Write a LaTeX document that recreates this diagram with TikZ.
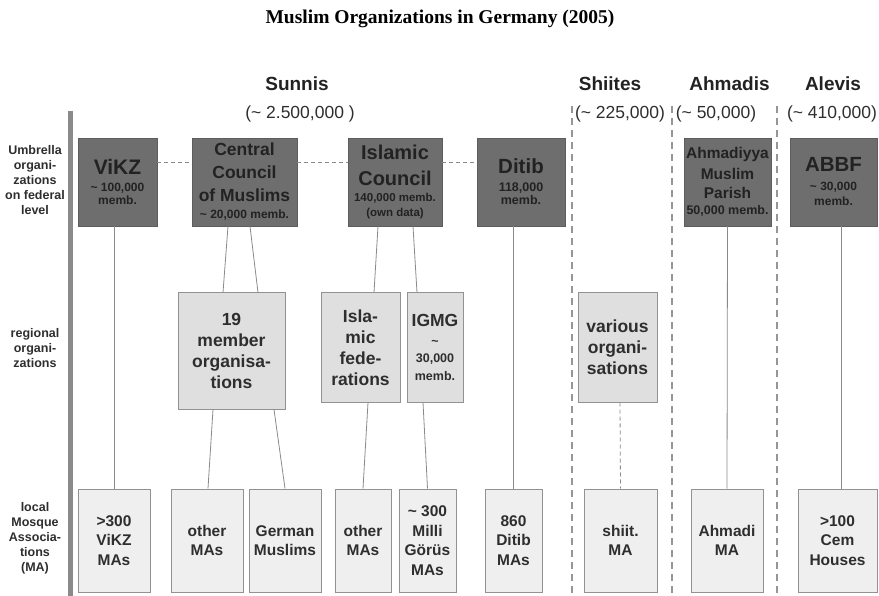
\documentclass[tikz,border=0pt]{standalone}
\usepackage{fontspec}
\setmainfont{Liberation Sans}
\newfontfamily\titlefont{Liberation Serif}
\definecolor{darkfill}{HTML}{6E6E6E}
\definecolor{darktext}{HTML}{222222}
\definecolor{midfill}{HTML}{DFDFDF}
\definecolor{lowfill}{HTML}{EFEFEF}
\definecolor{boxline}{HTML}{929292}
\definecolor{conn}{HTML}{8A8A8A}
\definecolor{labtext}{HTML}{2E2E2E}
\newcommand{\fs}[2]{\fontsize{#1}{#2}\selectfont}
\begin{document}
\begin{tikzpicture}[x=1pt,y=-1pt,
  darkbox/.style={fill=darkfill,draw=darkfill!85!black,line width=0.6pt,inner sep=0pt,
    minimum height=88pt,align=center,text=darktext,font=\bfseries\fs{12}{13}},
  midbox/.style={fill=midfill,draw=boxline,line width=1pt,inner sep=0pt,
    align=center,text=labtext,font=\bfseries\fs{17.5}{21}},
  lowbox/.style={fill=lowfill,draw=boxline,line width=1pt,inner sep=0pt,
    minimum height=103pt,align=center,text=labtext,font=\bfseries\fs{15.5}{19.5}},
  sidelab/.style={align=center,text=labtext,font=\bfseries\fs{12.5}{15}},
  head/.style={anchor=base,text=darktext,font=\bfseries\fs{19}{22}},
  cnt/.style={anchor=base,text=labtext,font=\fs{17.5}{20}},
  link/.style={draw=conn,line width=0.8pt},
  hdash/.style={draw=conn,line width=1pt,dash pattern=on 4pt off 3pt},
  sep/.style={draw=conn!90,line width=1.3pt,dash pattern=on 7pt off 5pt}]
\useasboundingbox (0,0) rectangle (879,596);

% title
\node[anchor=base,font=\titlefont\bfseries\fs{19.5}{22},text=black] (title) at (440,24) {Muslim Organizations in Germany (2005)};

% left bar
\coordinate (bart) at (70.5,111);
\coordinate (barb) at (70.5,596);
\draw[draw=conn,line width=4.5pt] (bart) -- (barb);

% separators
\coordinate (s1t) at (572,106); \coordinate (s1b) at (572,596);
\coordinate (s2t) at (672,106); \coordinate (s2b) at (672,596);
\coordinate (s3t) at (777,106); \coordinate (s3b) at (777,596);
\draw[sep] (s1t) -- (s1b);
\draw[sep] (s2t) -- (s2b);
\draw[sep] (s3t) -- (s3b);

% headers
\node[head] (hsun) at (297,91) {Sunnis};
\node[cnt]  (csun) at (300,119) {(\textasciitilde\ 2.500,000 )};
\node[head] (hshi) at (610,91) {Shiites};
\node[cnt]  (cshi) at (620,119) {(\textasciitilde\ 225,000)};
\node[head] (hahm) at (729.5,91) {Ahmadis};
\node[cnt]  (cahm) at (716,119) {(\textasciitilde\ 50,000)};
\node[head] (hale) at (833,91) {Alevis};
\node[cnt]  (cale) at (832,119) {(\textasciitilde\ 410,000)};

% side labels
\node[sidelab] (l1) at (35,180) {Umbrella\\organi-\\zations\\on federal\\level};
\node[sidelab] (l2) at (35,348) {regional\\organi-\\zations};
\node[sidelab] (l3) at (35,538) {local\\Mosque\\Associa-\\tions\\(MA)};

% umbrella organisations
\node[darkbox,minimum width=79pt] (vikz) at (117.5,182)
  {{\fs{21}{24}ViKZ}\\[4pt]\textasciitilde\ 100,000\\memb.};
\node[darkbox,minimum width=105pt] (ccm) at (244.5,182)
  {{\fs{17.5}{23}Central}\\[10pt]{\fs{17.5}{23}Council}\\[10pt]{\fs{17.5}{23}of Muslims}\\[4pt]\textasciitilde\ 20,000 memb.};
\node[darkbox,minimum width=94pt,font=\bfseries\fs{11.5}{13}] (ic) at (395,182)
  {{\fs{20}{23}Islamic}\\[11pt]{\fs{20}{23}Council}\\[3pt]140,000 memb.\\[2pt](own data)};
\node[darkbox,minimum width=88pt,font=\bfseries\fs{12.5}{13}] (ditib) at (521,182)
  {{\fs{20.5}{24}Ditib}\\[5pt]118,000\\memb.};
\node[darkbox,minimum width=87pt,font=\bfseries\fs{12.5}{13}] (amp) at (727.5,182)
  {{\fs{15.5}{18}Ahmadiyya}\\[6pt]{\fs{15.5}{18}Muslim}\\[6pt]{\fs{15.5}{18}Parish}\\[3pt]50,000 memb.};
\node[darkbox,minimum width=87pt] (abbf) at (833.5,182)
  {{\fs{20.5}{24}ABBF}\\[6pt]\textasciitilde\ 30,000\\[2pt]memb.};

\draw[hdash] ([yshift=19pt]vikz.east) -- ([yshift=19pt]ccm.west);
\draw[hdash] ([yshift=19pt]ccm.east) -- ([yshift=19pt]ic.west);
\draw[hdash] ([yshift=19pt]ic.east) -- ([yshift=19pt]ditib.west);

% regional organisations
\node[midbox,minimum width=107pt,minimum height=116pt] (mo) at (231.5,351)
  {19\\member\\organisa-\\tions};
\node[midbox,minimum width=79pt,minimum height=109pt] (isf) at (360.5,347.5)
  {Isla-\\mic\\fede-\\rations};
\node[midbox,minimum width=56pt,minimum height=109pt,font=\bfseries\fs{12.5}{16}] (igmg) at (435,347.5)
  {{\fs{17.5}{21}IGMG}\\[3pt]\textasciitilde\\[1pt]30,000\\[2pt]memb.};
\node[midbox,minimum width=79pt,minimum height=109pt] (var) at (617.5,347.5)
  {various\\organi-\\sations};

% local mosque associations
\node[lowbox,minimum width=72pt] (b1) at (114,540.5) {>300\\ViKZ\\MAs};
\node[lowbox,minimum width=72pt] (b2) at (207,540.5) {other\\MAs};
\node[lowbox,minimum width=72pt] (b3) at (285,540.5) {German\\Muslims};
\node[lowbox,minimum width=56pt] (b4) at (363,540.5) {other\\MAs};
\node[lowbox,minimum width=57pt] (b5) at (427.5,540.5) {\textasciitilde\ 300\\Milli\\Görüs\\MAs};
\node[lowbox,minimum width=57pt] (b6) at (513.5,540.5) {860\\Ditib\\MAs};
\node[lowbox,minimum width=73pt] (b7) at (620.5,540.5) {shiit.\\MA};
\node[lowbox,minimum width=72pt] (b8) at (727,540.5) {Ahmadi\\MA};
\node[lowbox,minimum width=79pt] (b9) at (837.5,540.5) {>100\\Cem\\Houses};

% connectors
\draw[link] ([xshift=-3.5pt]vikz.south) -- (b1.north);
\draw[link] ([xshift=-16.5pt]ccm.south) -- ([xshift=-8.5pt]mo.north);
\draw[link] ([xshift=5.5pt]ccm.south) -- ([xshift=26.5pt]mo.north);
\draw[link] ([xshift=-18.5pt]mo.south) -- ([xshift=1pt]b2.north);
\draw[link] ([xshift=42.5pt]mo.south) -- (b3.north);
\draw[link] ([xshift=-17pt]ic.south) -- ([xshift=13.5pt]isf.north);
\draw[link] ([xshift=18pt]ic.south) -- ([xshift=-18pt]igmg.north);
\draw[link] ([xshift=7.5pt]isf.south) -- (b4.north);
\draw[link] ([xshift=-12pt]igmg.south) -- (b5.north);
\draw[link] ([xshift=-8pt]ditib.south) -- ([xshift=-0.5pt]b6.north);
\draw[link,dash pattern=on 4pt off 3pt] ([xshift=2.5pt]var.south) -- (b7.north);
\draw[link] (amp.south) -- (b8.north);
\draw[link] ([xshift=8pt]abbf.south) -- ([xshift=4pt]b9.north);
\end{tikzpicture}
\end{document}
